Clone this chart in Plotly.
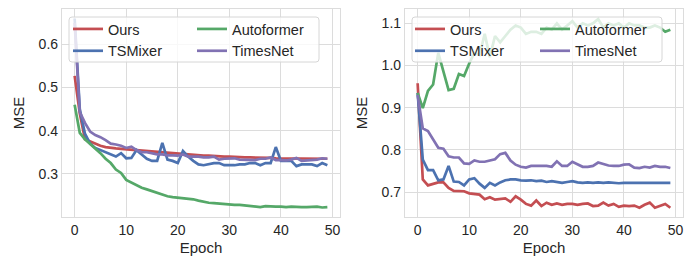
import plotly.graph_objects as go

W, H = 696, 256

epochs = list(range(50))

# Left panel
ours_l = [0.527, 0.440, 0.380, 0.375, 0.370, 0.365, 0.362, 0.360, 0.359, 0.358,
          0.357, 0.355, 0.354, 0.353, 0.352, 0.351, 0.350, 0.349, 0.348, 0.347,
          0.346, 0.345, 0.345, 0.344, 0.343, 0.342, 0.342, 0.341, 0.341, 0.340,
          0.340, 0.339, 0.339, 0.338, 0.338, 0.338, 0.337, 0.337, 0.337, 0.336,
          0.336, 0.336, 0.336, 0.335, 0.335, 0.335, 0.335, 0.335, 0.335, 0.335]
tsmixer_l = [0.660, 0.450, 0.393, 0.370, 0.360, 0.355, 0.350, 0.345, 0.340, 0.348,
             0.336, 0.337, 0.355, 0.345, 0.335, 0.330, 0.330, 0.372, 0.333, 0.330,
             0.325, 0.353, 0.340, 0.330, 0.322, 0.320, 0.323, 0.325, 0.325, 0.320,
             0.320, 0.320, 0.322, 0.322, 0.325, 0.325, 0.320, 0.325, 0.325, 0.362,
             0.330, 0.330, 0.330, 0.318, 0.322, 0.322, 0.322, 0.318, 0.325, 0.320]
autoformer_l = [0.460, 0.395, 0.380, 0.370, 0.358, 0.348, 0.335, 0.325, 0.310, 0.302,
                0.286, 0.280, 0.275, 0.268, 0.264, 0.260, 0.256, 0.252, 0.248, 0.246,
                0.245, 0.243, 0.243, 0.241, 0.238, 0.235, 0.233, 0.232, 0.231, 0.229,
                0.228, 0.228, 0.228, 0.227, 0.226, 0.225, 0.223, 0.225, 0.224, 0.224,
                0.224, 0.223, 0.224, 0.223, 0.223, 0.223, 0.224, 0.224, 0.222, 0.223]
timesnet_l = [0.650, 0.443, 0.418, 0.398, 0.390, 0.385, 0.378, 0.370, 0.368, 0.365,
              0.360, 0.363, 0.355, 0.350, 0.350, 0.348, 0.345, 0.345, 0.343, 0.343,
              0.342, 0.345, 0.340, 0.340, 0.340, 0.338, 0.338, 0.340, 0.333, 0.335,
              0.335, 0.336, 0.333, 0.333, 0.333, 0.332, 0.335, 0.335, 0.338, 0.332,
              0.332, 0.331, 0.333, 0.337, 0.330, 0.331, 0.332, 0.333, 0.336, 0.335]

# Right panel
ours_r = [0.958, 0.730, 0.716, 0.720, 0.723, 0.723, 0.710, 0.703, 0.702, 0.702,
          0.697, 0.695, 0.694, 0.683, 0.688, 0.682, 0.683, 0.685, 0.677, 0.690,
          0.682, 0.672, 0.668, 0.680, 0.667, 0.675, 0.670, 0.673, 0.670, 0.672,
          0.672, 0.670, 0.672, 0.673, 0.667, 0.668, 0.675, 0.668, 0.672, 0.665,
          0.668, 0.667, 0.668, 0.663, 0.670, 0.675, 0.663, 0.668, 0.672, 0.663]
tsmixer_r = [0.935, 0.777, 0.752, 0.752, 0.728, 0.730, 0.762, 0.725, 0.724, 0.716,
             0.730, 0.733, 0.720, 0.710, 0.722, 0.716, 0.723, 0.728, 0.730, 0.730,
             0.728, 0.727, 0.728, 0.726, 0.727, 0.724, 0.726, 0.724, 0.722, 0.724,
             0.726, 0.723, 0.722, 0.723, 0.722, 0.723, 0.722, 0.723, 0.722, 0.721,
             0.722, 0.722, 0.722, 0.722, 0.722, 0.722, 0.722, 0.722, 0.722, 0.722]
autoformer_r = [0.935, 0.899, 0.940, 0.955, 1.030, 0.985, 0.942, 0.945, 0.980, 0.975,
                1.005, 1.030, 1.025, 1.075, 1.020, 1.070, 1.055, 1.070, 1.085, 1.095,
                1.090, 1.075, 1.080, 1.080, 1.075, 1.090, 1.085, 1.100, 1.085, 1.095,
                1.105, 1.090, 1.100, 1.095, 1.100, 1.110, 1.090, 1.100, 1.095, 1.100,
                1.090, 1.100, 1.095, 1.095, 1.090, 1.090, 1.095, 1.090, 1.080, 1.085]
timesnet_r = [0.930, 0.851, 0.845, 0.825, 0.805, 0.803, 0.785, 0.782, 0.782, 0.768,
              0.767, 0.775, 0.772, 0.772, 0.775, 0.778, 0.790, 0.793, 0.775, 0.765,
              0.760, 0.758, 0.762, 0.762, 0.763, 0.762, 0.760, 0.773, 0.762, 0.762,
              0.772, 0.765, 0.760, 0.760, 0.762, 0.770, 0.766, 0.763, 0.762, 0.762,
              0.765, 0.766, 0.758, 0.757, 0.760, 0.758, 0.762, 0.760, 0.760, 0.757]

names = ["Ours", "TSMixer", "Autoformer", "TimesNet"]
colors = ["#C44E52", "#4C72B0", "#55A868", "#8172B3"]
x_ticks = [0, 10, 20, 30, 40, 50]
y_ticks_l = [0.3, 0.4, 0.5, 0.6]
y_ticks_r = [0.7, 0.8, 0.9, 1.0, 1.1]

FONT = "Liberation Sans, Arial, sans-serif"
TXT = "#262626"
GRID = "#dcdcdc"
LW = 2.7

fig = go.Figure()
left = [ours_l, tsmixer_l, autoformer_l, timesnet_l]
right = [ours_r, tsmixer_r, autoformer_r, timesnet_r]
leg_left = ["legend", "legend", "legend2", "legend2"]
leg_right = ["legend3", "legend3", "legend4", "legend4"]
for i in range(4):
    fig.add_trace(go.Scatter(x=epochs, y=left[i], mode="lines", name=names[i],
                             line=dict(color=colors[i], width=LW),
                             xaxis="x", yaxis="y", legend=leg_left[i]))
for i in range(4):
    fig.add_trace(go.Scatter(x=epochs, y=right[i], mode="lines", name=names[i],
                             line=dict(color=colors[i], width=LW),
                             xaxis="x2", yaxis="y2", legend=leg_right[i]))

def px(x):
    return x / W

def py(y):
    return 1 - y / H

axis_common = dict(showgrid=True, gridcolor=GRID, gridwidth=1, showline=True,
                   linecolor=GRID, linewidth=1.25, mirror=True, ticks="",
                   zeroline=False, automargin=False,
                   tickfont=dict(size=14, color=TXT, family=FONT))

ydom = [py(217), py(9)]
fig.update_layout(
    width=W, height=H, template="none",
    margin=dict(l=0, r=0, t=0, b=0),
    paper_bgcolor="white", plot_bgcolor="white",
    font=dict(family=FONT, color=TXT),
    xaxis=dict(domain=[px(62), px(340)], range=[-2.45, 51.45], tickvals=x_ticks,
               title=dict(text="Epoch", font=dict(size=15, color=TXT), standoff=7),
               anchor="y", **axis_common),
    yaxis=dict(domain=ydom, range=[0.200, 0.682], tickvals=y_ticks_l, tickformat=".1f",
               title=dict(text="MSE", font=dict(size=15, color=TXT), standoff=10),
               anchor="x", **axis_common),
    xaxis2=dict(domain=[px(405), px(683)], range=[-2.45, 51.45], tickvals=x_ticks,
                title=dict(text="Epoch", font=dict(size=15, color=TXT), standoff=7),
                anchor="y2", **axis_common),
    yaxis2=dict(domain=ydom, range=[0.641, 1.134], tickvals=y_ticks_r, tickformat=".1f",
                title=dict(text="MSE", font=dict(size=15, color=TXT), standoff=10),
                anchor="x2", **axis_common),
)

leg_common = dict(xanchor="left", yanchor="top", bgcolor="rgba(0,0,0,0)",
                  borderwidth=0, font=dict(size=14.5, color=TXT, family=FONT),
                  orientation="v", tracegroupgap=0, itemwidth=30)
fig.update_layout(
    legend=dict(x=px(68), y=py(13), **leg_common),
    legend2=dict(x=px(192), y=py(13), **leg_common),
    legend3=dict(x=px(410), y=py(13), **leg_common),
    legend4=dict(x=px(535), y=py(13), **leg_common),
)

def rounded_box(x0, y0, x1, y1, r=3):
    pts = [
        f"M{px(x0 + r)},{py(y0)}", f"L{px(x1 - r)},{py(y0)}",
        f"Q{px(x1)},{py(y0)} {px(x1)},{py(y0 + r)}", f"L{px(x1)},{py(y1 - r)}",
        f"Q{px(x1)},{py(y1)} {px(x1 - r)},{py(y1)}", f"L{px(x0 + r)},{py(y1)}",
        f"Q{px(x0)},{py(y1)} {px(x0)},{py(y1 - r)}", f"L{px(x0)},{py(y0 + r)}",
        f"Q{px(x0)},{py(y0)} {px(x0 + r)},{py(y0)}", "Z",
    ]
    return " ".join(pts)

for (bx0, bx1) in [(69, 319), (412, 662)]:
    fig.add_shape(type="path", path=rounded_box(bx0, 17, bx1, 62), xref="paper",
                  yref="paper", layer="above", fillcolor="rgba(255,255,255,0.8)",
                  line=dict(color="#d6d6d6", width=1))

fig.write_html("out.html",
               config={"displayModeBar": False},
               post_script="document.body.style.margin='0';"
                           "document.body.style.overflow='hidden';")
